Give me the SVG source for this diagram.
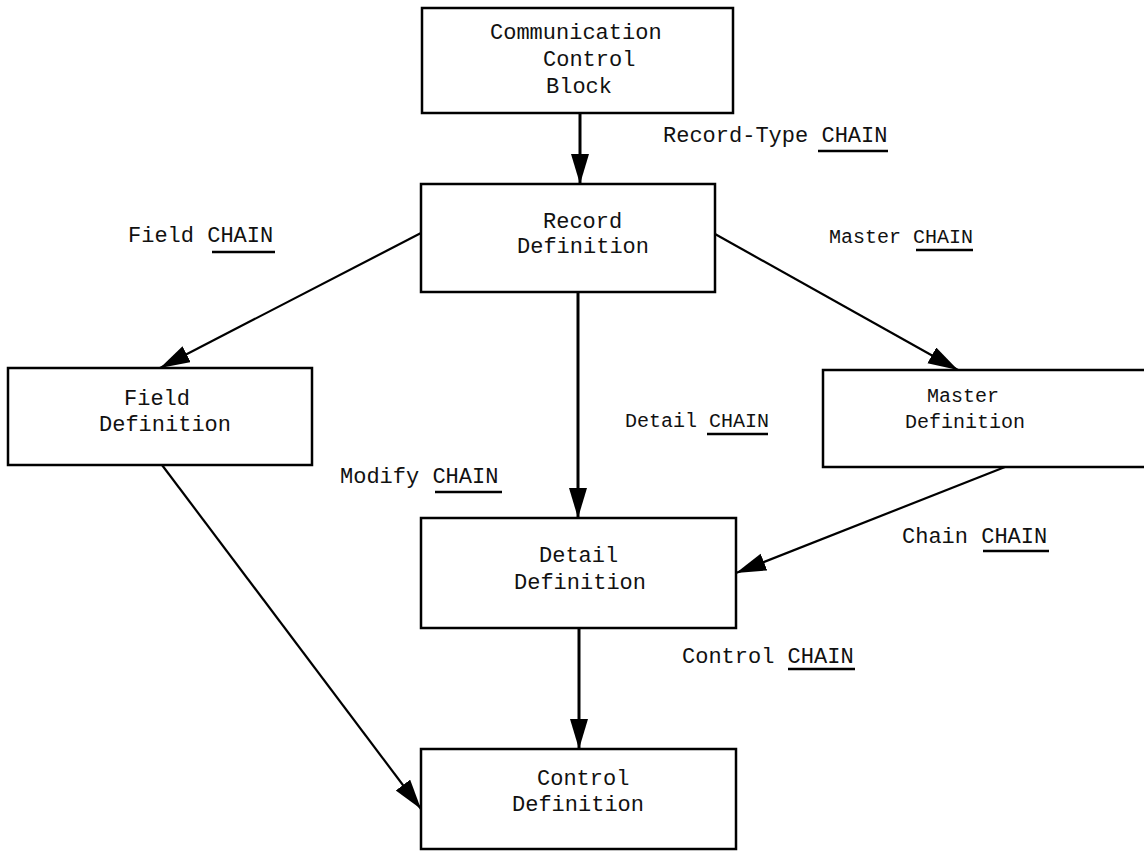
<svg xmlns="http://www.w3.org/2000/svg" width="1144" height="853" viewBox="0 0 1144 853">
  <style>
    .box { fill: #fff; stroke: #000; stroke-width: 2.5; }
    .t { font-family: "Liberation Mono", "Courier New", monospace; font-size: 22px; fill: #111; }
    .s { font-size: 20px; }
    .edge { fill: none; stroke: #000; stroke-width: 2.2; }
    .v { stroke-width: 3; }
    .ul { stroke: #000; stroke-width: 2.5; }
  </style>
  <defs>
    <marker id="head" markerUnits="userSpaceOnUse" markerWidth="32" markerHeight="20" refX="30" refY="9" orient="auto">
      <path d="M0,0 L30,9 L0,18 Z" fill="#000"/>
    </marker>
  </defs>
  <rect width="1144" height="853" fill="#fff"/>

  <!-- connectors -->
  <g id="connectors">
    <line class="edge v" x1="580" y1="113" x2="580" y2="184" marker-end="url(#head)"/>
    <line class="edge" x1="421" y1="233" x2="160" y2="368" marker-end="url(#head)"/>
    <line class="edge" x1="715" y1="234" x2="958" y2="370" marker-end="url(#head)"/>
    <line class="edge v" x1="578" y1="292" x2="578" y2="518" marker-end="url(#head)"/>
    <line class="edge" x1="1005" y1="467" x2="736" y2="573" marker-end="url(#head)"/>
    <line class="edge v" x1="579" y1="628" x2="579" y2="749" marker-end="url(#head)"/>
    <line class="edge" x1="162" y1="465" x2="421" y2="809" marker-end="url(#head)"/>
  </g>

  <!-- chain labels -->
  <g id="labels" class="t">
    <text x="663" y="142">Record-Type CHAIN</text>
    <line class="ul" x1="818" y1="151" x2="888" y2="151"/>
    <text x="128" y="242">Field CHAIN</text>
    <line class="ul" x1="212" y1="252" x2="275" y2="252"/>
    <text class="s" x="829" y="243">Master CHAIN</text>
    <line class="ul" x1="916" y1="250" x2="973" y2="250"/>
    <text class="s" x="625" y="427">Detail CHAIN</text>
    <line class="ul" x1="707" y1="434" x2="768" y2="434"/>
    <text x="340" y="483">Modify CHAIN</text>
    <line class="ul" x1="435" y1="492" x2="502" y2="492"/>
    <text x="902" y="543">Chain CHAIN</text>
    <line class="ul" x1="983" y1="551" x2="1049" y2="551"/>
    <text x="682" y="663">Control CHAIN</text>
    <line class="ul" x1="788" y1="669" x2="855" y2="669"/>
  </g>

  <!-- nodes -->
  <g id="ccb">
    <rect class="box" x="422" y="8" width="311" height="105"/>
    <text class="t" x="490" y="39">Communication</text>
    <text class="t" x="543" y="66">Control</text>
    <text class="t" x="546" y="93">Block</text>
  </g>
  <g id="record-def">
    <rect class="box" x="421" y="184" width="294" height="108"/>
    <text class="t" x="543" y="228">Record</text>
    <text class="t" x="517" y="253">Definition</text>
  </g>
  <g id="field-def">
    <rect class="box" x="8" y="368" width="304" height="97"/>
    <text class="t" x="124" y="405">Field</text>
    <text class="t" x="99" y="431">Definition</text>
  </g>
  <g id="master-def">
    <rect class="box" x="823" y="370" width="330" height="97"/>
    <text class="t s" x="927" y="402">Master</text>
    <text class="t s" x="905" y="428">Definition</text>
  </g>
  <g id="detail-def">
    <rect class="box" x="421" y="518" width="315" height="110"/>
    <text class="t" x="539" y="562">Detail</text>
    <text class="t" x="514" y="589">Definition</text>
  </g>
  <g id="control-def">
    <rect class="box" x="421" y="749" width="315" height="100"/>
    <text class="t" x="537" y="785">Control</text>
    <text class="t" x="512" y="811">Definition</text>
  </g>
</svg>
